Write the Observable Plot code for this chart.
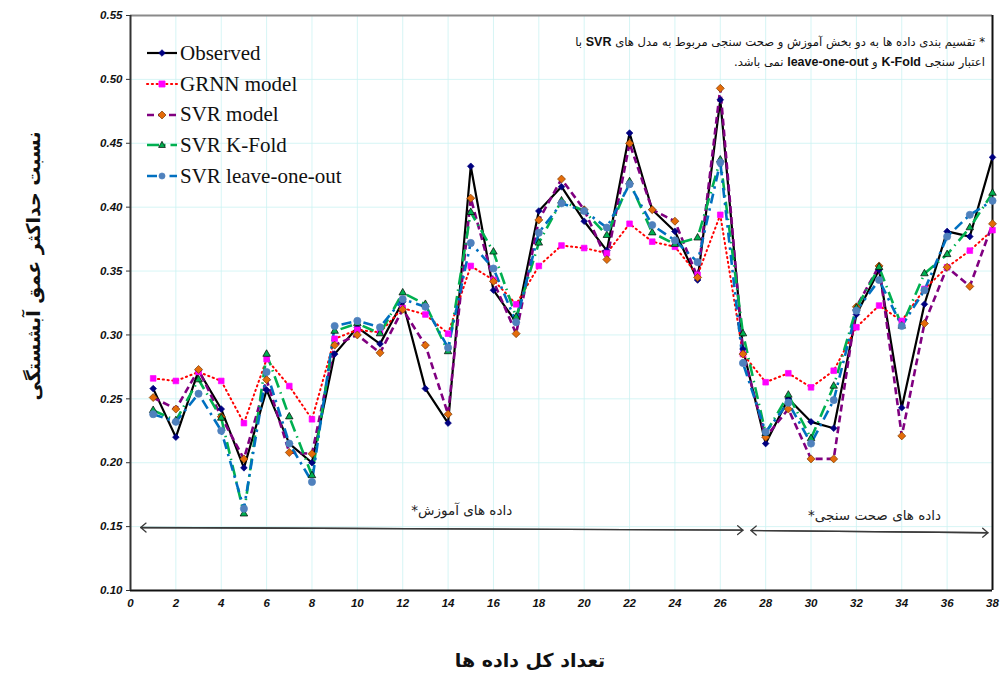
<!DOCTYPE html>
<html>
<head>
<meta charset="utf-8">
<script src="https://cdn.jsdelivr.net/npm/d3@7"></script>
<script src="https://cdn.jsdelivr.net/npm/@observablehq/plot@0.6"></script>
<style>
  html, body { margin: 0; padding: 0; background: #fff; }
  #wrap { position: relative; width: 1001px; height: 675px; overflow: hidden; }
  #wrap svg.chart { position: absolute; left: 0; top: 0; }
  .ov { position: absolute; white-space: nowrap; }
  #legend { left: 146px; top: 38px; font-family: "Liberation Serif", "Times New Roman", serif; font-size: 21px; color: #111; }
  #legend .row { display: flex; align-items: center; height: 30.7px; }
  #legend .row svg { margin-right: 2px; }
  #note { right: 16px; top: 32px; font-family: "DejaVu Sans", sans-serif; font-size: 11.6px; line-height: 20px; direction: rtl; text-align: right; color: #111; }
  #note b { font-family: "Liberation Sans", Arial, sans-serif; font-weight: bold; font-size: 12.5px; }
  #ytitle { left: 33px; top: 266px; transform: translate(-50%, -50%) rotate(-90deg); font-family: "DejaVu Sans", sans-serif; font-weight: bold; font-size: 19px; direction: rtl; color: #111; }
  #xtitle { left: 530px; top: 660px; transform: translate(-50%, -50%); font-family: "DejaVu Sans", sans-serif; font-weight: bold; font-size: 19px; direction: rtl; color: #111; }
</style>
</head>
<body>
<div id="wrap"></div>
<script>
// ---- data ----
const xIndex = [1,2,3,4,5,6,7,8,9,10,11,12,13,14,15,16,17,18,19,20,21,22,23,24,25,26,27,28,29,30,31,32,33,34,35,36,37,38];
const observed = [0.258,0.220,0.272,0.242,0.196,0.257,0.215,0.200,0.285,0.306,0.293,0.326,0.258,0.231,0.432,0.335,0.310,0.397,0.416,0.389,0.366,0.458,0.398,0.381,0.343,0.484,0.289,0.215,0.250,0.232,0.227,0.316,0.351,0.243,0.324,0.381,0.377,0.439];
const grnn = [0.266,0.264,0.271,0.264,0.231,0.281,0.260,0.234,0.297,0.304,0.302,0.321,0.316,0.301,0.354,0.343,0.324,0.354,0.370,0.368,0.364,0.387,0.373,0.369,0.347,0.394,0.285,0.263,0.270,0.259,0.272,0.306,0.323,0.311,0.336,0.353,0.366,0.382];
const svrModel = [0.251,0.242,0.273,0.236,0.203,0.265,0.208,0.207,0.292,0.300,0.286,0.320,0.292,0.238,0.407,0.342,0.301,0.390,0.422,0.398,0.359,0.450,0.398,0.389,0.345,0.493,0.285,0.220,0.242,0.203,0.203,0.322,0.354,0.221,0.309,0.353,0.338,0.387];
const svrKFold = [0.241,0.233,0.265,0.235,0.160,0.285,0.236,0.190,0.303,0.309,0.301,0.333,0.324,0.287,0.396,0.365,0.314,0.372,0.405,0.397,0.378,0.420,0.380,0.371,0.376,0.437,0.301,0.223,0.253,0.219,0.260,0.321,0.353,0.307,0.348,0.363,0.384,0.411];
const svrLoo = [0.238,0.232,0.254,0.225,0.164,0.271,0.215,0.185,0.307,0.311,0.306,0.328,0.322,0.290,0.372,0.352,0.310,0.380,0.403,0.397,0.384,0.418,0.386,0.374,0.357,0.435,0.278,0.224,0.247,0.215,0.249,0.319,0.343,0.307,0.335,0.377,0.394,0.405];

const xTicks = [0,2,4,6,8,10,12,14,16,18,20,22,24,26,28,30,32,34,36,38];
const yTicks = [0.10,0.15,0.20,0.25,0.30,0.35,0.40,0.45,0.50,0.55];

const arrows = [
  {x1: 0.45, y1: 0.1493, x2: 27.0, y2: 0.1472},
  {x1: 27.35, y1: 0.1470, x2: 37.8, y2: 0.1452}
];
const regionLabels = [
  {x: 14.6, y: 0.1626, text: "داده های آموزش*"},
  {x: 32.8, y: 0.1588, text: "داده های صحت سنجی*"}
];

const legendNames = ["Observed", "GRNN model", "SVR model", "SVR K-Fold", "SVR leave-one-out"];
const yTitle = "نسبت حداکثر عمق آبشستگی";
const xTitle = "تعداد کل داده ها";

// ---- styles per series ----
const series = [
  {name: legendNames[0], values: observed, stroke: "#000000", width: 2.2, dash: null, symbol: "diamond2", fill: "#000080", mstroke: "#000080", r: 3},
  {name: legendNames[1], values: grnn, stroke: "#FF0000", width: 2, dash: "1.2 3.6", cap: "round", symbol: "square2", fill: "#FF00FF", mstroke: "#FF00FF", r: 3.6},
  {name: legendNames[2], values: svrModel, stroke: "#800080", width: 2.6, dash: "7 4", symbol: "diamond2", fill: "#E46C0A", mstroke: "#7a3a00", r: 3.6},
  {name: legendNames[3], values: svrKFold, stroke: "#00B050", width: 2.6, dash: "12 5 1.5 5", symbol: "triangle2", fill: "#00B050", mstroke: "#000000", r: 3.6},
  {name: legendNames[4], values: svrLoo, stroke: "#0070C0", width: 2.6, dash: "10 5 2.5 5", symbol: "circle", fill: "#4F81BD", mstroke: "#4F81BD", r: 3.6}
];

const table = series.map(s => xIndex.map((x, i) => ({x, y: s.values[i], name: s.name})));

const lineMarks = series.map((s, k) =>
  Plot.line(table[k], {x: "x", y: "y", stroke: s.stroke, strokeWidth: s.width, strokeDasharray: s.dash || undefined, strokeLinecap: s.cap || "butt", strokeLinejoin: "miter"})
);
const dotMarks = series.map((s, k) =>
  Plot.dot(table[k], {x: "x", y: "y", symbol: s.symbol, r: s.r, fill: s.fill, stroke: s.mstroke, strokeWidth: 0.7})
);

const arrowOpts = {stroke: "#3a3a3a", strokeWidth: 1.3, headLength: 8, headAngle: 80};

const chart = Plot.plot({
  width: 1001,
  height: 675,
  marginLeft: 130,
  marginRight: 9,
  marginTop: 15,
  marginBottom: 85,
  style: {background: "transparent", overflow: "visible"},
  x: {domain: [0, 38]},
  y: {domain: [0.10, 0.55]},
  marks: [
    Plot.gridX(xTicks, {stroke: "#ccf2f2", strokeOpacity: 1, strokeWidth: 0.8}),
    Plot.gridY(yTicks, {stroke: "#ccf2f2", strokeOpacity: 1, strokeWidth: 0.8}),
    Plot.axisX(xTicks, {tickFormat: d => String(d), tickSize: 0, tickPadding: 8, fontSize: 11.5, fontWeight: "bold", fontStyle: "italic", fontFamily: "Liberation Sans, Arial, sans-serif", fill: "#111", label: null}),
    Plot.axisY(yTicks, {tickFormat: d3.format(".2f"), tickSize: 4, tickPadding: 4, fontSize: 11.5, fontWeight: "bold", fontStyle: "italic", fontFamily: "Liberation Sans, Arial, sans-serif", fill: "#111", stroke: "#333", label: null}),
    Plot.ruleY([0.55], {stroke: "#8a8a8a", strokeWidth: 2}),
    Plot.ruleY([0.10], {stroke: "#111", strokeWidth: 2}),
    Plot.ruleX([0], {stroke: "#333", strokeWidth: 2}),
    Plot.ruleX([38], {stroke: "#111", strokeWidth: 2}),
    ...lineMarks,
    ...dotMarks,
    Plot.arrow(arrows, {x1: "x1", y1: "y1", x2: "x2", y2: "y2", ...arrowOpts}),
    Plot.arrow(arrows, {x1: "x2", y1: "y2", x2: "x1", y2: "y1", ...arrowOpts}),
    Plot.text(regionLabels, {x: "x", y: "y", text: "text", fontSize: 13.5, fontFamily: "DejaVu Sans, sans-serif", fill: "#222", textAnchor: "middle"})
  ]
});
chart.classList.add("chart");
chart.querySelectorAll("text").forEach(t => {
  if (/[\u0600-\u06FF]/.test(t.textContent)) t.setAttribute("direction", "rtl");
});

const wrap = document.getElementById("wrap");
wrap.appendChild(chart);

// legend
const legend = document.createElement("div");
legend.id = "legend";
legend.className = "ov";
const symPath = {
  diamond2: r => `M0,${-r*1.3}L${r*1.3},0L0,${r*1.3}L${-r*1.3},0Z`,
  square2: r => `M${-r},${-r}h${2*r}v${2*r}h${-2*r}Z`,
  triangle2: r => `M0,${-r*1.2}L${r*1.1},${r*0.8}L${-r*1.1},${r*0.8}Z`,
  circle: r => `M${r},0A${r},${r} 0 1,1 ${-r},0A${r},${r} 0 1,1 ${r},0Z`
};
series.forEach(s => {
  const row = document.createElement("div");
  row.className = "row";
  const w = 32, h = 14;
  row.innerHTML = `<svg width="${w}" height="${h}" viewBox="0 0 ${w} ${h}">
    <line x1="1" y1="${h/2}" x2="${w-1}" y2="${h/2}" stroke="${s.stroke}" stroke-width="${s.width}" ${s.dash ? `stroke-dasharray="${s.dash}"` : ""} stroke-linecap="${s.cap || "butt"}"/>
    <path transform="translate(${w/2},${h/2})" d="${symPath[s.symbol](s.r*0.85)}" fill="${s.fill}" stroke="${s.mstroke}" stroke-width="0.7"/>
  </svg><span>${s.name}</span>`;
  legend.appendChild(row);
});
wrap.appendChild(legend);

// note
const note = document.createElement("div");
note.id = "note";
note.className = "ov";
note.innerHTML = `* تقسیم بندی داده ها به دو بخش آموزش و صحت سنجی مربوط به مدل های <b>SVR</b> با<br>اعتبار سنجی <b>K-Fold</b> و <b>leave-one-out</b> نمی باشد.`;
wrap.appendChild(note);

// axis titles
const yt = document.createElement("div");
yt.id = "ytitle"; yt.className = "ov"; yt.textContent = yTitle;
wrap.appendChild(yt);
const xt = document.createElement("div");
xt.id = "xtitle"; xt.className = "ov"; xt.textContent = xTitle;
wrap.appendChild(xt);
</script>
</body>
</html>
